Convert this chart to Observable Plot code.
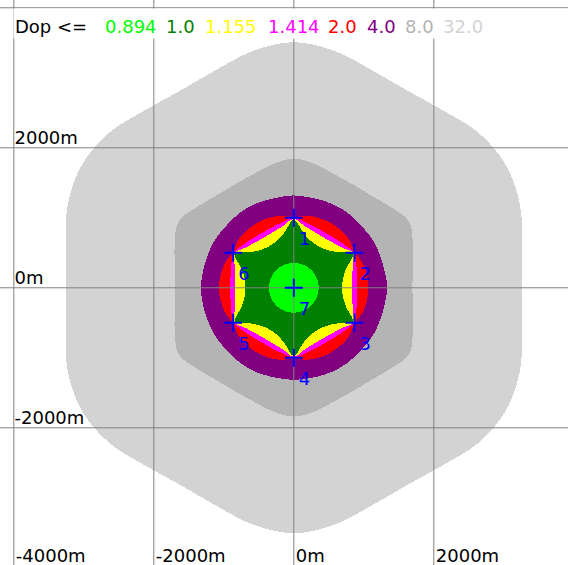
<!DOCTYPE html>
<html><head><meta charset="utf-8">
<script src="https://cdn.jsdelivr.net/npm/d3@7"></script>
<script src="https://cdn.jsdelivr.net/npm/@observablehq/plot@0.6"></script>
<style>
html,body{margin:0;padding:0;background:#fff;}
#chart{position:relative;width:568px;height:565px;overflow:hidden;}
#chart svg{display:block;}
</style></head><body><div id="chart"></div>
<script>
// ---- data ----
const angles = [0,10,20,30,40,50,60,70,80,90,100,110,120,130,140,150,160,170,180,190,200,210,220,230,240,250,260,270,280,290,300,310,320,330,340,350];
const r_32_0  = [3263,3310,3440,3500,3445,3310,3250,3300,3430,3509,3430,3300,3250,3310,3445,3500,3440,3310,3257,3310,3440,3500,3445,3310,3250,3300,3430,3506,3430,3300,3250,3310,3445,3500,3440,3310];
const r_8_0   = [1695,1725,1810,1900,1800,1720,1700,1720,1790,1845,1790,1720,1700,1720,1800,1900,1810,1725,1690,1725,1810,1900,1800,1720,1700,1720,1790,1840,1790,1720,1700,1720,1800,1900,1810,1725];
const r_4_0   = [1335,1320,1315,1320,1310,1315,1320,1315,1310,1320,1310,1315,1320,1315,1310,1320,1315,1320,1325,1320,1315,1320,1310,1315,1320,1315,1310,1315,1310,1315,1320,1315,1310,1320,1315,1320];
const r_2_0   = [1065,1060,1045,1005,1045,1060,1065,1060,1045,1010,1045,1060,1065,1060,1045,1005,1045,1060,1070,1060,1045,1005,1045,1060,1065,1060,1045,1010,1045,1060,1065,1060,1045,1005,1045,1060];
const r_1_414 = [905,918,950,995,950,918,905,918,950,995,950,918,905,918,950,995,950,918,905,918,950,995,950,918,905,918,950,995,950,918,905,918,950,995,950,918];
const r_1_155 = [835,850,895,985,895,850,835,850,895,985,895,850,835,850,895,985,895,850,835,850,895,985,895,850,835,850,895,985,895,850,835,850,895,985,895,850];
const r_1_0   = [690,712,795,975,795,712,690,712,795,975,795,712,690,712,795,975,795,712,690,712,795,975,795,712,690,712,795,975,795,712,690,712,795,975,795,712];
const r_0_894 = [355,355,355,355,355,355,355,355,355,355,355,355,355,355,355,355,355,355,355,355,355,355,355,355,355,355,355,355,355,355,355,355,355,355,355,355];

const dopLabels = ["0.894","1.0","1.155","1.414","2.0","4.0","8.0","32.0"];
const dopColors = ["#00ff00","#008000","#ffff00","#ff00ff","#ff0000","#800080","#b4b4b4","#d3d3d3"];

const stationLabel = ["1","2","3","4","5","6","7"];
const stationX = [0, 866, 866, 0, -866, -866, 0];
const stationY = [1000, 500, -500, -1000, -500, 500, 0];

const xTicks = [-4000, -2000, 0, 2000];
const yTicks = [2000, 0, -2000];
const yGrid = [4000, 2000, 0, -2000];

// ---- build ----
const FONT = "DejaVu Sans";
const radiiByLevel = [r_0_894, r_1_0, r_1_155, r_1_414, r_2_0, r_4_0, r_8_0, r_32_0];
const polys = radiiByLevel.map((rs, li) => rs.map((r, i) => {
  const a = angles[i] * Math.PI / 180;
  return {x: r * Math.cos(a), y: r * Math.sin(a), level: li};
}));
const stations = stationLabel.map((s, i) => ({label: s, x: stationX[i], y: stationY[i]}));

const plusSymbol = {
  draw(ctx, size) {
    const r = Math.sqrt(size / Math.PI);
    ctx.moveTo(-r, 0); ctx.lineTo(r, 0);
    ctx.moveTo(0, -r); ctx.lineTo(0, r);
  }
};

const fillMarks = [];
for (let li = polys.length - 1; li >= 0; li--) {
  fillMarks.push(Plot.line(polys[li], {
    x: "x", y: "y", fill: dopColors[li], stroke: "none",
    curve: "catmull-rom-closed", shapeRendering: "crispEdges"
  }));
}

const chart = Plot.plot({
  width: 568, height: 565, margin: 0,
  x: {domain: [-4190, 3924], axis: null},
  y: {domain: [-3967, 4104], axis: null},
  style: {background: "white", fontFamily: FONT, fontSize: "18px", overflow: "hidden"},
  marks: [
    ...fillMarks,
    Plot.ruleX(xTicks, {x: d => d, stroke: "#808080", strokeWidth: 1}),
    Plot.ruleY(yGrid, {y: d => d, stroke: "#808080", strokeWidth: 1}),
    Plot.dot(stations, {x: "x", y: "y", r: 9, symbol: plusSymbol, fill: "none", stroke: "#0000ff", strokeWidth: 2}),
    Plot.text(stations, {x: "x", y: "y", text: "label", fill: "#0000ff", textAnchor: "start", lineAnchor: "bottom", dx: 5, dy: 27, fontSize: 18}),
    Plot.text(yTicks, {y: d => d, text: d => d + "m", frameAnchor: "left", textAnchor: "start", lineAnchor: "bottom", dx: 14, dy: -4, fill: "black", fontSize: 18}),
    Plot.text(xTicks, {x: d => d, text: d => d + "m", frameAnchor: "bottom", textAnchor: "start", lineAnchor: "bottom", dx: 2, dy: -4, fill: "black", fontSize: 18})
  ]
});
document.getElementById("chart").appendChild(chart);

// legend strip over the top of the plot
const legendX = [105, 166, 205, 268, 328, 367, 405, 443];
const g = d3.select(chart).append("g")
  .attr("font-family", FONT).attr("font-size", 18).attr("text-anchor", "start");
g.append("rect").attr("x", 13.5).attr("y", 8.5).attr("width", 555).attr("height", 30).attr("fill", "white");
const t = g.append("text").attr("y", 33).attr("text-anchor", "start");
t.append("tspan").attr("x", 15).attr("fill", "black").text("Dop <=");
dopLabels.forEach((s, i) => t.append("tspan").attr("x", legendX[i]).attr("fill", dopColors[i]).text(s));
</script>
</body></html>
